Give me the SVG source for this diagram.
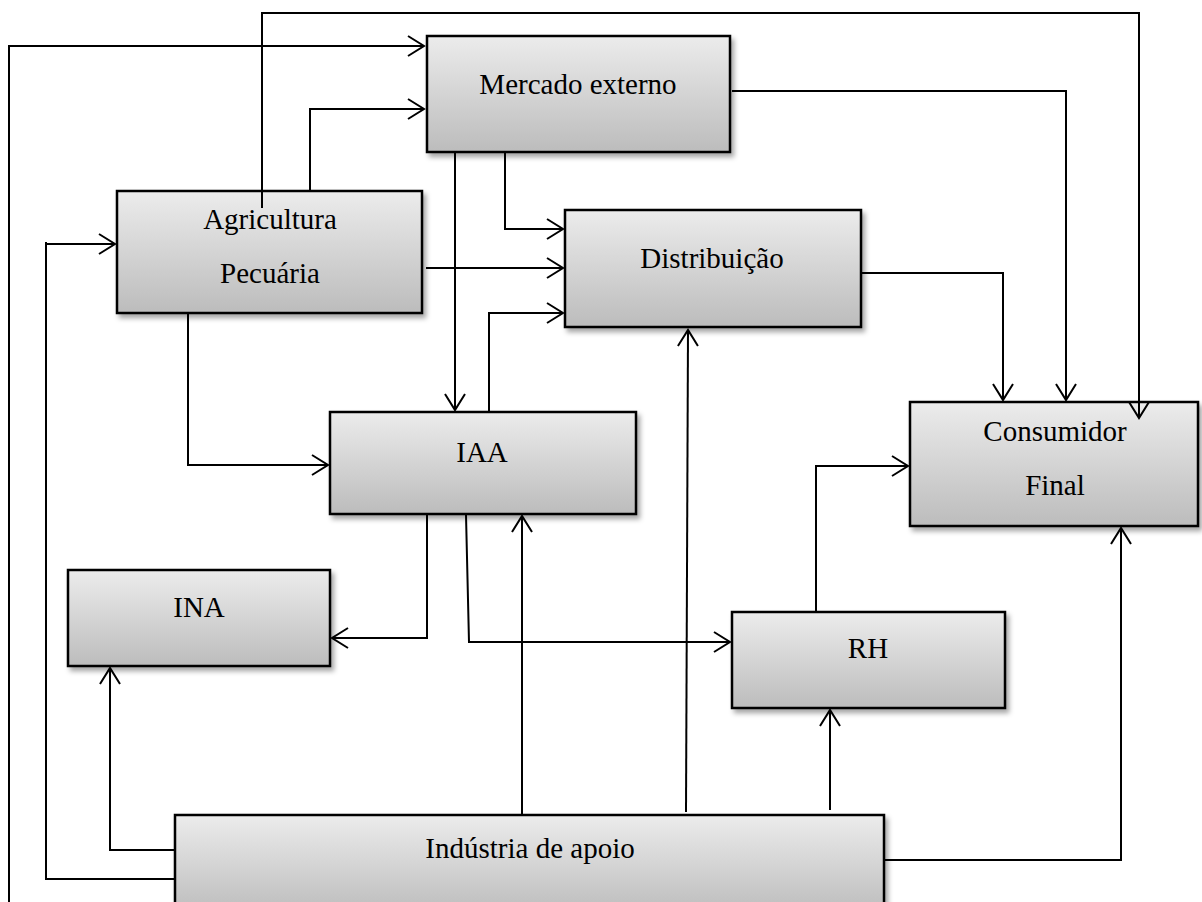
<svg xmlns="http://www.w3.org/2000/svg" width="1202" height="902" viewBox="0 0 1202 902">
<defs>
<linearGradient id="g" x1="0" y1="0" x2="0" y2="1">
<stop offset="0" stop-color="#ececec"/>
<stop offset="1" stop-color="#bcbcbc"/>
</linearGradient>
<filter id="sh" x="-10%" y="-10%" width="125%" height="130%">
<feDropShadow dx="3" dy="4" stdDeviation="2.5" flood-color="#000" flood-opacity="0.35"/>
</filter>
<marker id="ar" markerUnits="userSpaceOnUse" markerWidth="20" markerHeight="24" viewBox="-18 -12 20 24" refX="0" refY="0" orient="auto">
<path d="M-16,-10 L0,0 L-16,10" fill="none" stroke="#000" stroke-width="2"/>
</marker>
<style>
.box{fill:url(#g);stroke:#000;stroke-width:2.5;filter:url(#sh)}
.t{font-family:"Liberation Serif","Times New Roman",serif;font-size:29px;fill:#000;text-anchor:middle}
.c path{fill:none;stroke:#000;stroke-width:2}
.c .a{marker-end:url(#ar)}
</style>
</defs>
<rect width="1202" height="902" fill="#fff"/>
<g id="mercado"><rect class="box" x="427" y="36" width="303" height="116"/><text class="t" x="578" y="94">Mercado externo</text></g>
<g id="agricultura"><rect class="box" x="117" y="191" width="305" height="122"/><text class="t" x="270" y="229">Agricultura</text><text class="t" x="270" y="283">Pecuária</text></g>
<g id="distribuicao"><rect class="box" x="565" y="210" width="296" height="117"/><text class="t" x="712" y="268">Distribuição</text></g>
<g id="iaa"><rect class="box" x="330" y="412" width="306" height="102"/><text class="t" x="482" y="462">IAA</text></g>
<g id="consumidor"><rect class="box" x="910" y="402" width="288" height="124"/><text class="t" x="1055" y="441">Consumidor</text><text class="t" x="1055" y="495">Final</text></g>
<g id="ina"><rect class="box" x="68" y="570" width="262" height="96"/><text class="t" x="199" y="617">INA</text></g>
<g id="rh"><rect class="box" x="732" y="612" width="273" height="96"/><text class="t" x="868" y="658">RH</text></g>
<g id="industria"><rect class="box" x="175" y="815" width="709" height="100"/><text class="t" x="530" y="858">Indústria de apoio</text></g>
<g id="connectors" class="c">
<path d="M262,208 V13 H1139 V418" class="a"/>
<path d="M9,902 V46 H424" class="a"/>
<path d="M310,191 V109 H424" class="a"/>
<path d="M174,879 H46 V242"/>
<path d="M46,244 H115" class="a"/>
<path d="M174,850 H110 V668" class="a"/>
<path d="M455,152 V410" class="a"/>
<path d="M505,152 V229 H563" class="a"/>
<path d="M426,268 H563" class="a"/>
<path d="M489,412 V313 H563" class="a"/>
<path d="M188,313 V465 H328" class="a"/>
<path d="M732,91 H1066 V400" class="a"/>
<path d="M862,273 H1003 V400" class="a"/>
<path d="M427,515 V638 H332" class="a"/>
<path d="M466,515 L469,642 H730" class="a"/>
<path d="M522,815 V516" class="a"/>
<path d="M686,812 L688,330" class="a"/>
<path d="M830,810 V710" class="a"/>
<path d="M816,611 V466 H908" class="a"/>
<path d="M885,860 H1121 V528" class="a"/>
</g>
</svg>
